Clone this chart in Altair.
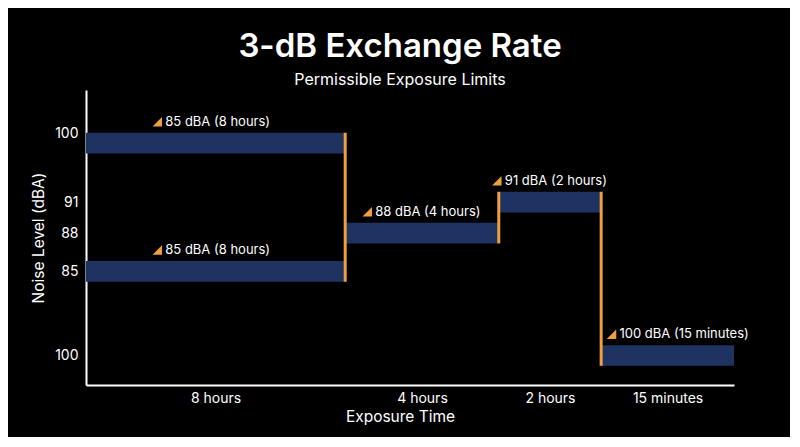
import altair as alt
import pandas as pd

# ---- data ----
durations = ["8 hours", "8 hours", "4 hours", "2 hours", "15 minutes"]
x_start = [0.0, 0.0, 40.0, 63.7, 79.5]
x_end = [40.0, 40.0, 63.7, 79.5, 100.0]
y_low = [78.5, 35.0, 48.0, 58.5, 6.5]
y_high = [85.5, 42.0, 55.0, 65.5, 13.5]
annotations = ["85 dBA (8 hours)", "85 dBA (8 hours)", "88 dBA (4 hours)",
               "91 dBA (2 hours)", "100 dBA (15 minutes)"]
annotation_x = [11.0, 11.0, 43.4, 63.4, 81.1]

step_x = [40.0, 63.7, 79.5]
step_y_low = [35.0, 48.0, 6.5]
step_y_high = [85.5, 65.5, 65.5]

y_tick_values = [85.2, 62.0, 51.5, 38.5, 10.0]
y_tick_labels = ["100", "91", "88", "85", "100"]
x_tick_values = [20.0, 51.85, 71.6, 89.75]
x_tick_labels = ["8 hours", "4 hours", "2 hours", "15 minutes"]

BAR = "#1e3362"
ORANGE = "#f0a03a"
FONT = "Inter"

bars_df = pd.DataFrame({
    "duration": durations, "x0": x_start, "x1": x_end,
    "y0": y_low, "y1": y_high, "label": annotations, "lx": annotation_x,
})
steps_df = pd.DataFrame({"x": step_x, "y0": step_y_low, "y1": step_y_high})

def label_expr(values, labels):
    parts = [f"datum.value == {v} ? '{l}'" for v, l in zip(values, labels)]
    return " : ".join(parts) + " : ''"

xscale = alt.Scale(domain=[0, 100], nice=False, zero=False)
yscale = alt.Scale(domain=[0, 100], nice=False, zero=False)

x_axis = alt.Axis(values=x_tick_values, labelExpr=label_expr(x_tick_values, x_tick_labels),
                  title="Exposure Time", labelPadding=6, titlePadding=4, titleX=314)
y_axis = alt.Axis(values=y_tick_values, labelExpr=label_expr(y_tick_values, y_tick_labels),
                  title="Noise Level (dBA)", labelPadding=8, titlePadding=8)

bars = alt.Chart(bars_df).mark_rect(color=BAR).encode(
    x=alt.X("x0:Q", scale=xscale, axis=x_axis),
    x2="x1:Q",
    y=alt.Y("y0:Q", scale=yscale, axis=y_axis),
    y2="y1:Q",
)

steps = alt.Chart(steps_df).mark_rule(color=ORANGE, strokeWidth=3, strokeCap="butt").encode(
    x=alt.X("x:Q", scale=xscale, axis=x_axis),
    y=alt.Y("y0:Q", scale=yscale, axis=y_axis),
    y2="y1:Q",
)

tri = alt.Chart(bars_df).mark_point(
    shape="M 1 -1 L 1 1 L -1 1 Z", size=90, filled=True, opacity=1,
    color=ORANGE, yOffset=-11,
).encode(
    x=alt.X("lx:Q", scale=xscale, axis=x_axis),
    y=alt.Y("y1:Q", scale=yscale, axis=y_axis),
)

txt = alt.Chart(bars_df).mark_text(
    align="left", baseline="middle", dx=8, dy=-11, color="white",
    fontSize=13, font=FONT,
).encode(
    x=alt.X("lx:Q", scale=xscale, axis=x_axis),
    y=alt.Y("y1:Q", scale=yscale, axis=y_axis),
    text="label:N",
)

chart = alt.layer(bars, steps, tri, txt).properties(
    width=648, height=295,
    autosize=alt.AutoSizeParams(type="none"),
    padding={"left": 78, "top": 82, "right": 56, "bottom": 52},
    background="black",
    title=alt.TitleParams(
        "3-dB Exchange Rate", subtitle="Permissible Exposure Limits",
        font=FONT, fontSize=33, fontWeight=600, color="white",
        subtitleFont=FONT, subtitleFontSize=16, subtitleColor="white",
        subtitlePadding=8, anchor="middle", offset=2, dx=-10,
    ),
).configure_view(stroke=None).configure_axis(
    domainColor="white", domainWidth=2, grid=False, ticks=False,
    labelColor="white", labelFont=FONT, labelFontSize=14,
    titleColor="white", titleFont=FONT, titleFontSize=15.5, titleFontWeight="normal",
)

chart.save("out.html", embed_options={"renderer": "svg", "actions": False})
